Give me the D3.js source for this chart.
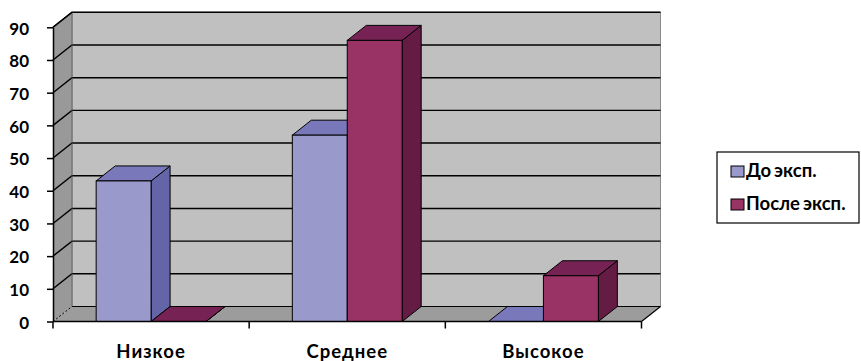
<!DOCTYPE html>
<html>
<head>
<meta charset="utf-8">
<script src="https://cdn.jsdelivr.net/npm/d3@7"></script>
<style>
  html, body { margin: 0; padding: 0; background: #ffffff; }
  svg { display: block; }
  text { font-family: "Lato", "Open Sans", sans-serif; font-weight: 700; fill: #000; }
</style>
</head>
<body>
<svg id="chart" width="861" height="361"></svg>
<script>
// Data
const categories = ["Низкое", "Среднее", "Высокое"];
const seriesNames = ["До эксп.", "После эксп."];
const beforeValues = [43, 57, 0];
const afterValues = [0, 86, 14];
const yTicks = [0, 10, 20, 30, 40, 50, 60, 70, 80, 90];

// Styling
const faceColors = [
  { front: "#9999cc", top: "#7878bb", side: "#6464a8" },
  { front: "#993366", top: "#772255", side: "#641c44" }
];
const wallColor = "#c0c0c0";
const sideWallColor = "#999999";
const floorColor = "#9c9c9c";

const svg = d3.select("#chart");

// Front plane geometry and depth offset of the 3D box
const plotLeft = 53, plotRight = 641.5, plotBottom = 321.5, plotTop = 27.3;
const dx = 19, dy = -15;

const x = d3.scaleBand().domain(categories).range([plotLeft, plotRight]).padding(0);
const xs = d3.scaleBand().domain([0, 1])
  .range([x.bandwidth() * 0.22, x.bandwidth() * 0.78]).padding(0);
const y = d3.scaleLinear().domain([0, 90]).range([plotBottom, plotTop]);

const pts = p => p.map(d => d.join(",")).join(" ");

// Walls and floor
const g = svg.append("g");
g.append("rect")
  .attr("x", plotLeft + dx).attr("y", y(90) + dy)
  .attr("width", plotRight - plotLeft).attr("height", y(0) - y(90))
  .attr("fill", wallColor).attr("stroke", "#8a8a8a").attr("stroke-width", 1);
g.append("polygon")
  .attr("points", pts([[plotLeft, y(90)], [plotLeft + dx, y(90) + dy], [plotLeft + dx, y(0) + dy], [plotLeft, y(0)]]))
  .attr("fill", sideWallColor);
g.append("polygon")
  .attr("points", pts([[plotLeft, y(0)], [plotLeft + dx, y(0) + dy], [plotRight + dx, y(0) + dy], [plotRight, y(0)]]))
  .attr("fill", floorColor);

// Gridlines across the side wall and the back wall
g.selectAll("polyline.grid").data(yTicks.filter(t => t > 0)).join("polyline")
  .attr("class", "grid")
  .attr("points", t => pts([[plotLeft, y(t)], [plotLeft + dx, y(t) + dy], [plotRight + dx, y(t) + dy]]))
  .attr("fill", "none").attr("stroke", "#000").attr("stroke-width", 1.4);

// Floor edges
g.append("line")
  .attr("x1", plotLeft + dx).attr("y1", y(0) + dy).attr("x2", plotRight + dx).attr("y2", y(0) + dy)
  .attr("stroke", "#000").attr("stroke-width", 1.2);
g.append("line")
  .attr("x1", plotLeft).attr("y1", y(0)).attr("x2", plotLeft + dx).attr("y2", y(0) + dy)
  .attr("stroke", "#000").attr("stroke-width", 1).attr("stroke-dasharray", "2,2");
g.append("line")
  .attr("x1", plotRight).attr("y1", y(0)).attr("x2", plotRight + dx).attr("y2", y(0) + dy)
  .attr("stroke", "#000").attr("stroke-width", 1.2);
g.append("line")
  .attr("x1", plotLeft + dx).attr("y1", y(90) + dy).attr("x2", plotLeft + dx).attr("y2", y(0) + dy)
  .attr("stroke", "#555").attr("stroke-width", 0.8);

// Bars (front, top and side faces)
const barData = [];
categories.forEach((c, i) => {
  [beforeValues[i], afterValues[i]].forEach((v, s) => {
    barData.push({ c, s, v, x0: x(c) + xs(s), x1: x(c) + xs(s) + xs.bandwidth() });
  });
});

const bars = svg.append("g").selectAll("g").data(barData).join("g");
bars.append("polygon")
  .attr("points", d => pts([[d.x1, y(d.v)], [d.x1 + dx, y(d.v) + dy], [d.x1 + dx, y(0) + dy], [d.x1, y(0)]]))
  .attr("fill", d => faceColors[d.s].side)
  .attr("stroke", "#000").attr("stroke-width", 1).attr("stroke-linejoin", "round");
bars.append("polygon")
  .attr("points", d => pts([[d.x0, y(d.v)], [d.x0 + dx, y(d.v) + dy], [d.x1 + dx, y(d.v) + dy], [d.x1, y(d.v)]]))
  .attr("fill", d => faceColors[d.s].top)
  .attr("stroke", "#000").attr("stroke-width", 1).attr("stroke-linejoin", "round");
bars.filter(d => d.v > 0).append("rect")
  .attr("x", d => d.x0).attr("y", d => y(d.v))
  .attr("width", d => d.x1 - d.x0).attr("height", d => y(0) - y(d.v))
  .attr("fill", d => faceColors[d.s].front)
  .attr("stroke", "#000").attr("stroke-width", 1);

// Value axis
const yAxis = svg.append("g")
  .attr("transform", `translate(${plotLeft},0)`)
  .call(d3.axisLeft(y).tickValues(yTicks).tickSize(6).tickSizeOuter(0).tickPadding(18));
yAxis.select(".domain").attr("stroke", "#000").attr("stroke-width", 1.5);
yAxis.selectAll(".tick line").attr("stroke", "#000").attr("stroke-width", 1.5);
yAxis.selectAll(".tick text")
  .attr("font-size", 17).attr("font-family", "Lato, sans-serif").attr("font-weight", 700)
  .attr("dy", "0.4em");
yAxis.append("line")
  .attr("x1", 0).attr("y1", y(90)).attr("x2", dx).attr("y2", y(90) + dy)
  .attr("stroke", "#000").attr("stroke-width", 1.4);

// Category axis
const xAxis = svg.append("g")
  .attr("transform", `translate(0,${plotBottom})`)
  .call(d3.axisBottom(x).tickSize(0).tickPadding(23));
xAxis.select(".domain").remove();
xAxis.selectAll(".tick text")
  .attr("font-size", 18.5).attr("font-family", "Lato, sans-serif").attr("font-weight", 700)
  .attr("letter-spacing", "1px");
xAxis.append("line")
  .attr("x1", plotLeft).attr("x2", plotRight).attr("y1", 0).attr("y2", 0)
  .attr("stroke", "#000").attr("stroke-width", 1.5);
const bounds = categories.map(c => x(c)).concat([x(categories[categories.length - 1]) + x.bandwidth()]);
xAxis.selectAll("line.bound").data(bounds).join("line")
  .attr("class", "bound")
  .attr("x1", d => d).attr("x2", d => d).attr("y1", 0).attr("y2", 7)
  .attr("stroke", "#000").attr("stroke-width", 1.5);

// Legend
const legend = svg.append("g").attr("transform", "translate(717,152)");
legend.append("rect")
  .attr("width", 142).attr("height", 71)
  .attr("fill", "#fff").attr("stroke", "#000").attr("stroke-width", 1.2);
const items = legend.selectAll("g.item").data(seriesNames).join("g")
  .attr("class", "item")
  .attr("transform", (d, i) => `translate(14,${14 + i * 33})`);
items.append("rect")
  .attr("width", 13).attr("height", 11)
  .attr("fill", (d, i) => faceColors[i].front)
  .attr("stroke", "#000").attr("stroke-width", 1);
items.append("text")
  .attr("x", 15).attr("y", 11)
  .attr("font-size", 18.5).attr("word-spacing", "-1.5px")
  .text(d => d);
</script>
</body>
</html>
